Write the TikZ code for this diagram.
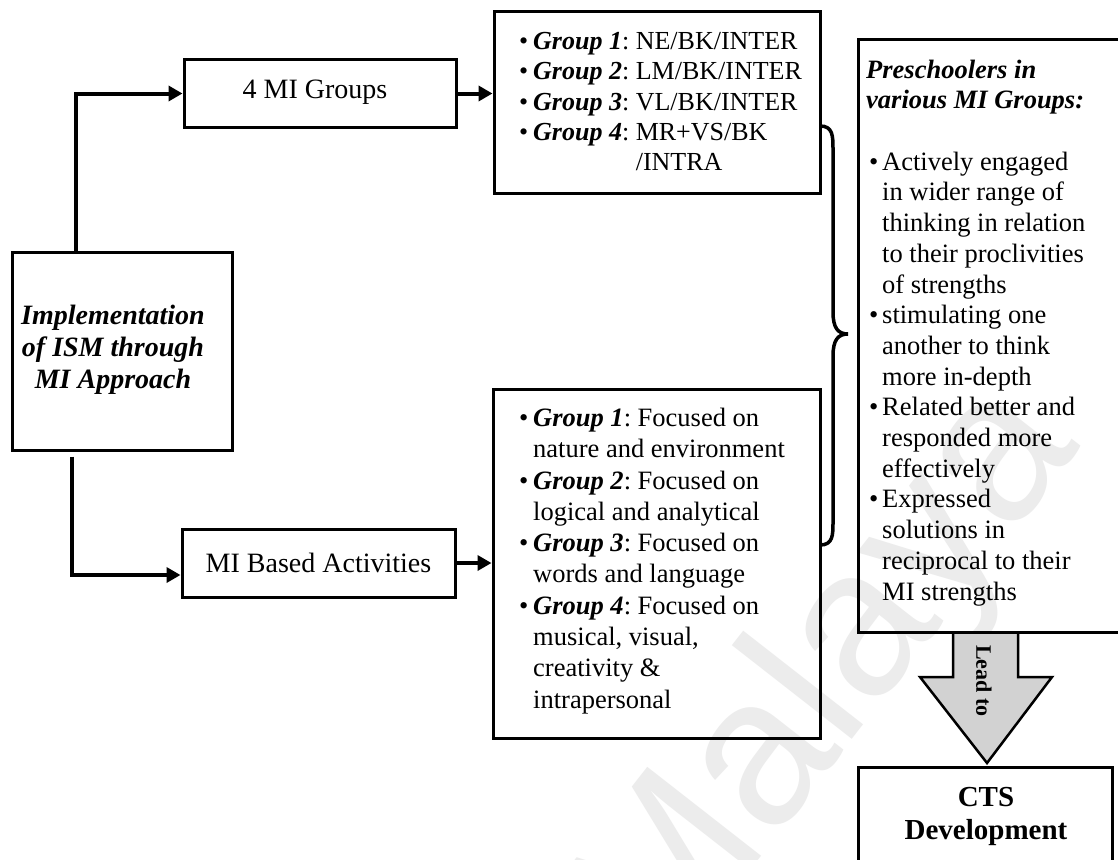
\documentclass[tikz,border=0pt]{standalone}
\usepackage{fontspec}
\setmainfont{Liberation Serif}
\newfontfamily\wmfont{Liberation Sans}
\usetikzlibrary{arrows.meta}

\definecolor{leadgray}{RGB}{210,210,210}
\definecolor{wmgray}{RGB}{236,236,236}

% bold italic group labels, bullets and indents for the lists
\newcommand\gbi[1]{\textbf{\textit{#1}}}
\newcommand\bul{\makebox[14pt][l]{\textbullet}}
\newcommand\bind{\hspace{14pt}}
\newcommand\pbul{\hspace{3pt}\makebox[13pt][l]{\textbullet}}
\newcommand\pind{\hspace{16pt}}

\newcommand\fsbox{\fontsize{28}{32.2}\selectfont}
\newcommand\fsup{\fontsize{26}{30.3}\selectfont}
\newcommand\fslow{\fontsize{26.5}{31.3}\selectfont}
\newcommand\fspre{\fontsize{26.5}{30.7}\selectfont}

\frenchspacing

\begin{document}
\begin{tikzpicture}[x=1pt,y=-1pt,
  box/.style={draw, line width=3pt, rectangle, inner sep=0pt},
  conn/.style={line width=4pt, line join=miter, -{Triangle[length=14pt,width=15pt]}},
  txt/.style={inner sep=0pt, align=left},
]
\path[use as bounding box, clip] (0,0) rectangle (1118,859);
\fill[white] (0,0) rectangle (1118,859);

% faint watermark behind everything
\node[wmgray, rotate=52, inner sep=0pt, font=\wmfont\fontsize{210}{210}\selectfont] (wm) at (830,680) {Malaya};

% main boxes
\node[box, minimum width=220pt, minimum height=198pt] (impl) at (122,351) {};
\node[inner sep=0pt, align=center, font=\fsbox\bfseries\itshape] (impltxt) at (113,350) {Implementation\\of ISM through\\MI Approach};
\node[box, minimum width=272pt, minimum height=67pt] (mig) at (320,93.5) {};
\node[inner sep=0pt, font=\fsbox] (migtxt) at (315,92) {4 MI Groups};
\node[box, minimum width=273pt, minimum height=68pt, font=\fsbox] (act) at (318.5,563) {MI Based Activities};
\node[box, minimum width=326pt, minimum height=181pt] (grp1) at (657,102.5) {};
\node[box, minimum width=327pt, minimum height=349pt] (grp2) at (656.5,563.5) {};

% lead-to arrow under the outcome box
\fill[leadgray] (953,631) -- (953,677) -- (920,677) -- (987,763) -- (1052,677) -- (1018,677) -- (1018,631) -- cycle;
\draw[line width=2.5pt, line join=miter] (953,631) -- (953,677) -- (920,677) -- (987,763) -- (1052,677) -- (1018,677) -- (1018,631);
\node[rotate=-90, inner sep=0pt, font=\bfseries\fontsize{22}{22}\selectfont] (lead) at (984,681) {Lead to};

\node[box, minimum width=272pt, minimum height=592pt] (pre) at (994,336) {};
\node[box, minimum width=254pt, minimum height=140pt] (cts) at (985,837) {};

% list texts
\node[txt, anchor=west, font=\fsup] (grp1txt) at (519,104) {\begin{tabular}{@{}l@{}}
\bul\gbi{Group 1}: NE/BK/INTER\\
\bul\gbi{Group 2}: LM/BK/INTER\\
\bul\gbi{Group 3}: VL/BK/INTER\\
\bul\gbi{Group 4}: MR+VS/BK\\
\bind\phantom{\gbi{Group 4}: }/INTRA
\end{tabular}};

\node[txt, anchor=west, font=\fslow] (grp2txt) at (519,561) {\begin{tabular}{@{}l@{}}
\bul\gbi{Group 1}: Focused on\\
\bind nature and environment\\
\bul\gbi{Group 2}: Focused on\\
\bind logical and analytical\\
\bul\gbi{Group 3}: Focused on\\
\bind words and language\\
\bul\gbi{Group 4}: Focused on\\
\bind musical, visual,\\
\bind creativity \&\\
\bind intrapersonal
\end{tabular}};

\node[txt, anchor=west, font=\fspre] (pretxt) at (866,333) {\begin{tabular}{@{}l@{}}
\gbi{Preschoolers in}\\
\gbi{various MI Groups:}\\
\\
\pbul Actively engaged\\
\pind in wider range of\\
\pind thinking in relation\\
\pind to their proclivities\\
\pind of strengths\\
\pbul stimulating one\\
\pind another to think\\
\pind more in-depth\\
\pbul Related better and\\
\pind responded more\\
\pind effectively\\
\pbul Expressed\\
\pind solutions in\\
\pind reciprocal to their\\
\pind MI strengths
\end{tabular}};

\node[inner sep=0pt, anchor=north, align=center, font=\bfseries\fontsize{29}{33}\selectfont] (ctstxt) at (986,787) {CTS\\Development};

% curly brace gathering both group boxes
\draw[line width=3.5pt] (820,126) .. controls (833,126) and (833,136) .. (833,150)
  -- (833,312) .. controls (833,328) and (838,334) .. (848,334)
  .. controls (838,334) and (833,340) .. (833,356)
  -- (833,522) .. controls (833,535) and (833,545) .. (820,545);

% connectors
\draw[conn] ([xshift=65pt]impl.north west) |- (mig.west);
\draw[conn] ([xshift=61pt,yshift=-5pt]impl.south west) |- ([yshift=-12pt]act.west);
\draw[conn] (mig.east) -- (mig.east -| grp1.west);
\draw[conn] (act.east) -- (act.east -| grp2.west);
\end{tikzpicture}
\end{document}
